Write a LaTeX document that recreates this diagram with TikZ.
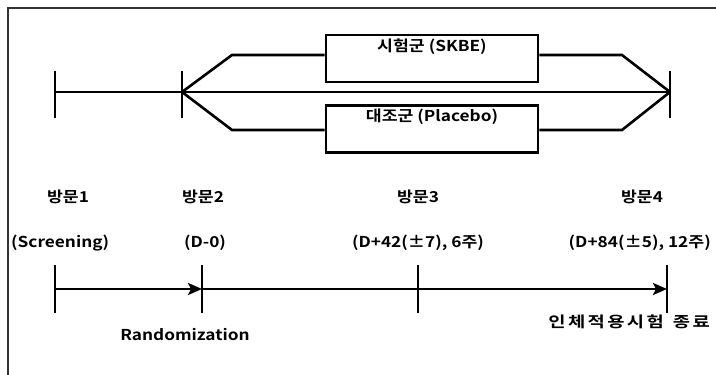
\documentclass[tikz,border=0pt]{standalone}
\usepackage{fontspec}
\setmainfont{Noto Sans CJK KR Bold}[FakeStretch=1.15]
\newfontfamily\spacedfont{Noto Sans CJK KR Bold}[FakeStretch=1.25,LetterSpace=16]
\usetikzlibrary{arrows.meta}
\begin{document}
\begin{tikzpicture}[x=1pt,y=-1pt,
  line/.style={line width=2.6pt},
  tick/.style={line width=2.6pt},
  armbox/.style={draw,line width=2.6pt,minimum width=212pt,minimum height=47pt,inner sep=0pt},
  lbl/.style={font=\fontsize{15}{17}\selectfont,inner sep=0pt},
  armlbl/.style={font=\fontsize{15}{17}\selectfont,inner sep=0pt},
  tip/.style={-{Stealth[length=14pt,width=12pt,inset=3pt]}}
]
\useasboundingbox (0,0) rectangle (716,375);
\begin{scope}
\clip (0,0) rectangle (716,375);
\draw[line width=1.5pt,draw=black!80] (8,8) rectangle (740,400);
\end{scope}

% upper timeline
\coordinate (t1) at (55,92);
\coordinate (t2) at (182,92);
\coordinate (t4) at (670,92);
\foreach \p in {t1,t2,t4}{\draw[tick] ([yshift=-26pt]\p) -- ([yshift=21pt]\p);}
\draw[line] (t1) -- (t4);

% treatment arms
\node[armbox] (skbe) at (432,58.5) {};
\node[armlbl,below=5pt] (skbet) at (skbe.north) {시험군 (SKBE)};
\node[armbox] (plac) at (432,129) {};
\node[armlbl,below=5pt] (plact) at (plac.north) {대조군 (Placebo)};
\coordinate (ua) at (232,55);
\coordinate (ub) at (622,55);
\coordinate (la) at (232,130);
\coordinate (lb) at (622,130);
\draw[line,line join=miter] (t2) -- (ua) -- (skbe.west |- ua);
\draw[line,line join=miter] (skbe.east |- ub) -- (ub) -- (t4);
\draw[line,line join=miter] (t2) -- (la) -- (plac.west |- la);
\draw[line,line join=miter] (plac.east |- lb) -- (lb) -- (t4);

% visit labels
\node[lbl] (v1) at (68,197) {방문1};
\node[lbl] (v2) at (203,197) {방문2};
\node[lbl] (v3) at (418,197) {방문3};
\node[lbl] (v4) at (642,197) {방문4};
\node[lbl,anchor=west] (d1) at (11,243) {(Screening)};
\node[lbl] (d2) at (205,243) {(D-0)};
\node[lbl] (d3) at (418,243) {(D+42(±7), 6주)};
\node[lbl,anchor=east] (d4) at (711,243) {(D+84(±5), 12주)};

% lower timeline
\coordinate (b1) at (55,289);
\coordinate (b2) at (202,289);
\coordinate (b3) at (418,289);
\coordinate (b4) at (667,289);
\foreach \p in {b1,b2,b3,b4}{\draw[tick] ([yshift=-24pt]\p) -- ([yshift=24pt]\p);}
\draw[line,tip] (b1) -- (b2);
\draw[line,tip] (b2) -- (b4);

\node[lbl] (rand) at (185,335) {Randomization};
\node[lbl,anchor=east] (end) at (710,322) {\spacedfont 인체적용시험\hspace{0.6em}종료};
\end{tikzpicture}
\end{document}
